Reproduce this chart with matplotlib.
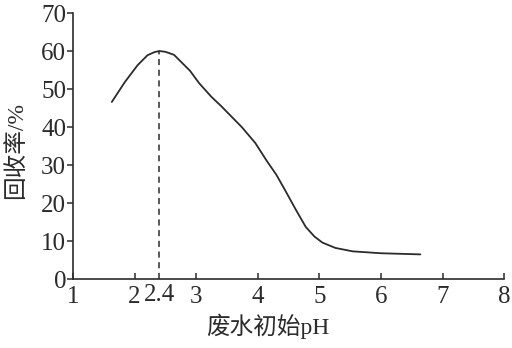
import numpy as np
import matplotlib
matplotlib.use("Agg")
import matplotlib.pyplot as plt
import matplotlib.transforms as mtransforms

plt.rcParams['font.family'] = ['Liberation Serif', 'Noto Sans CJK SC', 'DejaVu Sans']

# values
ph = [1.63, 1.84, 2.05, 2.21, 2.32, 2.40, 2.50, 2.64, 2.90, 3.05, 3.25, 3.40,
      3.74, 3.96, 4.15, 4.30, 4.45, 4.62, 4.78, 4.92, 5.05, 5.26, 5.54, 6.00, 6.64]
recovery = [46.6, 51.8, 56.3, 58.9, 59.7, 60.0, 59.8, 59.0, 54.8, 51.5, 47.9, 45.6,
            40.0, 35.8, 31.0, 27.5, 23.2, 18.2, 13.7, 11.2, 9.6, 8.2, 7.3, 6.8, 6.5]
peak_ph = 2.4
peak_val = 60
xticks = [1, 2, 3, 4, 5, 6, 7, 8]
yticks = [0, 10, 20, 30, 40, 50, 60, 70]

ink = '#2b2b2b'

fig = plt.figure(figsize=(5.12, 3.48), dpi=100)
ax = fig.add_axes([0.1426, 0.198, 0.842, 0.7646])

ax.plot(ph, recovery, color=ink, lw=1.3, solid_capstyle='round',
        solid_joinstyle='round')
ax.plot([peak_ph, peak_ph], [0, peak_val], color=ink, lw=1.1, ls=(0, (4, 3)))

ax.set_xlim(1, 8)
ax.set_ylim(0, 70)
ax.set_xticks(xticks)
ax.set_yticks(yticks)

for s in ['top', 'right']:
    ax.spines[s].set_visible(False)
for s in ['left', 'bottom']:
    ax.spines[s].set_color(ink)
    ax.spines[s].set_linewidth(1.2)

ax.tick_params(axis='x', direction='in', length=4, width=1.1, color=ink,
               labelsize=18, pad=5, labelcolor=ink)
ax.tick_params(axis='y', direction='out', length=4, width=1.1, color=ink,
               labelsize=18, pad=1, labelcolor=ink)

trans = mtransforms.blended_transform_factory(ax.transData, ax.transAxes)
ax.text(peak_ph, -0.019, '2.4', transform=trans, ha='center', va='top',
        fontsize=18, color=ink)

ax.text(0.452, -0.177, '废水初始pH', transform=ax.transAxes, ha='center',
        va='center', fontsize=17, color=ink)
ax.text(-0.131, 0.485, '回收率/%', transform=ax.transAxes, ha='center',
        va='center', rotation=90, fontsize=17, color=ink)

fig.savefig('out.png', dpi=100)
